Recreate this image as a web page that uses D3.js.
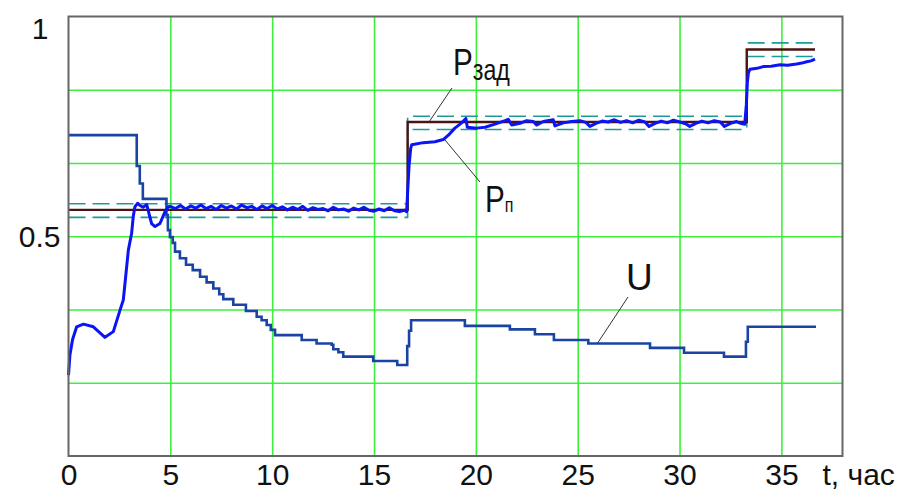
<!DOCTYPE html>
<html>
<head>
<meta charset="utf-8">
<script src="https://cdn.jsdelivr.net/npm/d3@7"></script>
<style>
  body { margin: 0; background: #fff; }
  svg { display: block; font-family: "Liberation Sans", Arial, sans-serif; }
</style>
</head>
<body>
<div id="chart"></div>
<script>
// данные
const xTicks = [0, 5, 10, 15, 20, 25, 30, 35];
const yGrid = [1 / 6, 2 / 6, 3 / 6, 4 / 6, 5 / 6];

// задание Pзад (ступени) и допуск
const spT = [0, 16.65, 33.3, 36.65];
const spV = [0.56, 0.76, 0.925, 0.925];
const bandHi = [0.574, 0.773, 0.940, 0.940];
const bandLo = [0.543, 0.743, 0.909, 0.909];

// управление U (ступенчатое)
const uT = [0, 3.2, 3.35, 3.5, 3.65, 4.72, 4.81, 4.88, 4.98, 5.12, 5.23, 5.47, 5.77, 6.10, 6.46, 6.78,
  7.11, 7.40, 7.60, 8.09, 8.71, 9.24, 9.48, 9.73, 9.93, 10.14, 11.45, 12.18, 12.92, 13.0, 13.25,
  13.49, 14.96, 16.14, 16.63, 16.72, 16.82, 19.46, 21.67, 22.90, 23.83, 25.52, 28.55, 30.22,
  32.18, 33.26, 33.35, 36.7];
const uV = [0.730, 0.730, 0.660, 0.620, 0.585, 0.585, 0.548, 0.514, 0.498, 0.485, 0.465, 0.450, 0.435, 0.423, 0.408, 0.395,
  0.381, 0.368, 0.357, 0.344, 0.330, 0.317, 0.309, 0.298, 0.287, 0.275, 0.264, 0.256, 0.253, 0.243, 0.236,
  0.226, 0.216, 0.207, 0.250, 0.285, 0.309, 0.296, 0.288, 0.277, 0.264, 0.256, 0.246, 0.235,
  0.226, 0.260, 0.294, 0.294];

// измеренное Pп
const pT = [0, 0.07, 0.2, 0.40, 0.73, 1.22, 1.79, 2.20, 2.53, 2.69, 2.94, 3.10, 3.18, 3.26, 3.4, 3.51, 3.66, 3.84,
  4.08, 4.25, 4.49, 4.74, 4.90,
  5.0, 5.25, 5.5, 5.75, 6.0, 6.25, 6.5, 6.75, 7.0, 7.25, 7.5, 7.75, 8.0, 8.25, 8.5, 8.75, 9.0, 9.25, 9.5, 9.75, 10.0,
  10.25, 10.5, 10.75, 11.0, 11.25, 11.5, 11.75, 12.0, 12.25, 12.5, 12.75, 13.0, 13.25, 13.5, 13.75, 14.0,
  14.25, 14.5, 14.75, 15.0, 15.25, 15.5, 15.75, 16.0, 16.25, 16.5,
  16.6, 16.65, 16.72, 16.8, 16.85, 17.42, 17.99, 18.40, 18.65, 18.97, 19.30, 19.51, 19.58, 20.04, 20.45,
  20.94, 21.43, 21.59, 21.76, 22.17, 22.49, 22.82, 22.98, 23.31, 23.80, 23.88, 24.29, 24.7, 25.11,
  25.4, 25.6, 25.9, 26.2, 26.5, 26.8, 27.1, 27.4, 27.7, 28.0, 28.3, 28.5, 28.8, 29.1, 29.4, 29.7, 30.0,
  30.3, 30.5, 30.8, 31.1, 31.4, 31.7, 32.0, 32.2, 32.5, 32.8, 33.0, 33.2,
  33.28, 33.33, 33.38, 33.46, 33.8, 34.11, 34.5, 34.93, 35.3, 35.75, 36.0, 36.24, 36.45, 36.65];
const pV = [0.184, 0.230, 0.265, 0.294, 0.300, 0.294, 0.270, 0.283, 0.332, 0.355, 0.469, 0.507, 0.545, 0.567, 0.575, 0.570, 0.566, 0.572,
  0.529, 0.522, 0.529, 0.556, 0.567,
  0.568, 0.563, 0.570, 0.562, 0.569, 0.564, 0.571, 0.563, 0.568, 0.561, 0.570, 0.564, 0.569, 0.562, 0.571, 0.565, 0.568, 0.561, 0.569, 0.563, 0.570,
  0.562, 0.567, 0.560, 0.566, 0.561, 0.568, 0.559, 0.565, 0.561, 0.563, 0.558, 0.566, 0.560, 0.562, 0.557, 0.564,
  0.560, 0.566, 0.559, 0.557, 0.562, 0.558, 0.565, 0.558, 0.556, 0.559,
  0.556, 0.600, 0.660, 0.700, 0.708, 0.713, 0.715, 0.720, 0.730, 0.746, 0.758, 0.768, 0.748, 0.746, 0.748,
  0.755, 0.763, 0.766, 0.753, 0.757, 0.763, 0.761, 0.753, 0.761, 0.765, 0.751, 0.758, 0.761, 0.763,
  0.759, 0.750, 0.757, 0.762, 0.760, 0.765, 0.759, 0.763, 0.758, 0.764, 0.760, 0.750, 0.757, 0.762, 0.758, 0.764, 0.760,
  0.756, 0.750, 0.757, 0.762, 0.758, 0.763, 0.760, 0.750, 0.757, 0.761, 0.757, 0.755,
  0.800, 0.850, 0.872, 0.880, 0.882, 0.886, 0.887, 0.890, 0.889, 0.892, 0.894, 0.897, 0.899, 0.903];

// размеры
const W = 907, H = 491;
const margin = {top: 16.5, right: 64.5, bottom: 35, left: 68.5};
const width = W - margin.left - margin.right;
const height = H - margin.top - margin.bottom;

const svg = d3.select('#chart').append('svg')
  .attr('width', W).attr('height', H);
const g = svg.append('g')
  .attr('transform', `translate(${margin.left},${margin.top})`);

const x = d3.scaleLinear().domain([0, 38]).range([0, width]);
const y = d3.scaleLinear().domain([0, 1]).range([height, 0]);

// сетка
const gridColor = '#3df03d';
g.append('g')
  .attr('transform', `translate(0,${height})`)
  .call(d3.axisBottom(x).tickValues(xTicks.filter(d => d > 0)).tickSize(-height).tickFormat(''))
  .call(a => a.select('.domain').remove())
  .selectAll('.tick line')
  .attr('stroke', gridColor).attr('stroke-width', 1.6);
g.append('g')
  .call(d3.axisLeft(y).tickValues(yGrid).tickSize(-width).tickFormat(''))
  .call(a => a.select('.domain').remove())
  .selectAll('.tick line')
  .attr('stroke', gridColor).attr('stroke-width', 1.6);

const stepLine = d3.line()
  .x(d => x(d[0])).y(d => y(d[1]))
  .curve(d3.curveStepAfter);
const plainLine = d3.line()
  .x(d => x(d[0])).y(d => y(d[1]));

// допуск (пунктир)
[bandHi, bandLo].forEach(b => {
  g.append('path')
    .datum(spT.map((t, i) => [t, b[i]]))
    .attr('d', stepLine)
    .attr('fill', 'none')
    .attr('stroke', '#1f9a9a')
    .attr('stroke-width', 1.6)
    .attr('stroke-dasharray', '17,7');
});

// задание
g.append('path')
  .datum(spT.map((t, i) => [t, spV[i]]))
  .attr('d', stepLine)
  .attr('fill', 'none')
  .attr('stroke', '#4a1414')
  .attr('stroke-width', 2.4);

// U
g.append('path')
  .datum(uT.map((t, i) => [t, uV[i]]))
  .attr('d', stepLine)
  .attr('fill', 'none')
  .attr('stroke', '#1a44a4')
  .attr('stroke-width', 2.6);

// Pп
g.append('path')
  .datum(pT.map((t, i) => [t, pV[i]]))
  .attr('d', plainLine)
  .attr('fill', 'none')
  .attr('stroke', '#0a14f5')
  .attr('stroke-width', 3)
  .attr('stroke-linejoin', 'round');

// рамка
g.append('rect')
  .attr('width', width).attr('height', height)
  .attr('fill', 'none')
  .attr('stroke', '#666')
  .attr('stroke-width', 2);

// подписи осей
g.append('g')
  .attr('transform', `translate(0,${height})`)
  .call(d3.axisBottom(x).tickValues(xTicks).tickSize(0).tickPadding(4))
  .call(a => a.select('.domain').remove())
  .selectAll('text')
  .attr('y', 29).attr('dy', 0)
  .style('font-size', '30px')
  .style('font-family', '"Liberation Sans", Arial, sans-serif')
  .style('fill', '#111');

g.append('text')
  .attr('x', width - 20).attr('y', height + 29)
  .style('font-size', '30px').style('fill', '#111')
  .text('t, час');

g.append('text')
  .attr('x', -8).attr('y', y(0.5) + 11)
  .attr('text-anchor', 'end')
  .style('font-size', '30px').style('fill', '#111')
  .text('0.5');
g.append('text')
  .attr('x', -20).attr('y', y(1) + 22)
  .attr('text-anchor', 'end')
  .style('font-size', '30px').style('fill', '#111')
  .text('1');

// метки кривых
function label(px, py, main, sub, subSize, subDy) {
  const t = svg.append('text')
    .attr('transform', `translate(${px},${py}) scale(0.8,1)`)
    .style('fill', '#111');
  t.append('tspan').style('font-size', '37px').text(main);
  if (sub) t.append('tspan').attr('dy', subDy).style('font-size', subSize).text(sub);
}
label(453, 75, 'P', 'зад', '29px', 5);
label(485, 212, 'P', 'п', '20px', 0);
svg.append('text')
  .attr('x', 626).attr('y', 290)
  .style('font-size', '37px').style('fill', '#111')
  .text('U');

// выноски
const leaders = [
  [[452, 88], [429, 122]],
  [[480, 182], [445, 140]],
  [[628, 297], [597, 344]]
];
leaders.forEach(p => {
  svg.append('line')
    .attr('x1', p[0][0]).attr('y1', p[0][1])
    .attr('x2', p[1][0]).attr('y2', p[1][1])
    .attr('stroke', '#333').attr('stroke-width', 1);
});
</script>
</body>
</html>
